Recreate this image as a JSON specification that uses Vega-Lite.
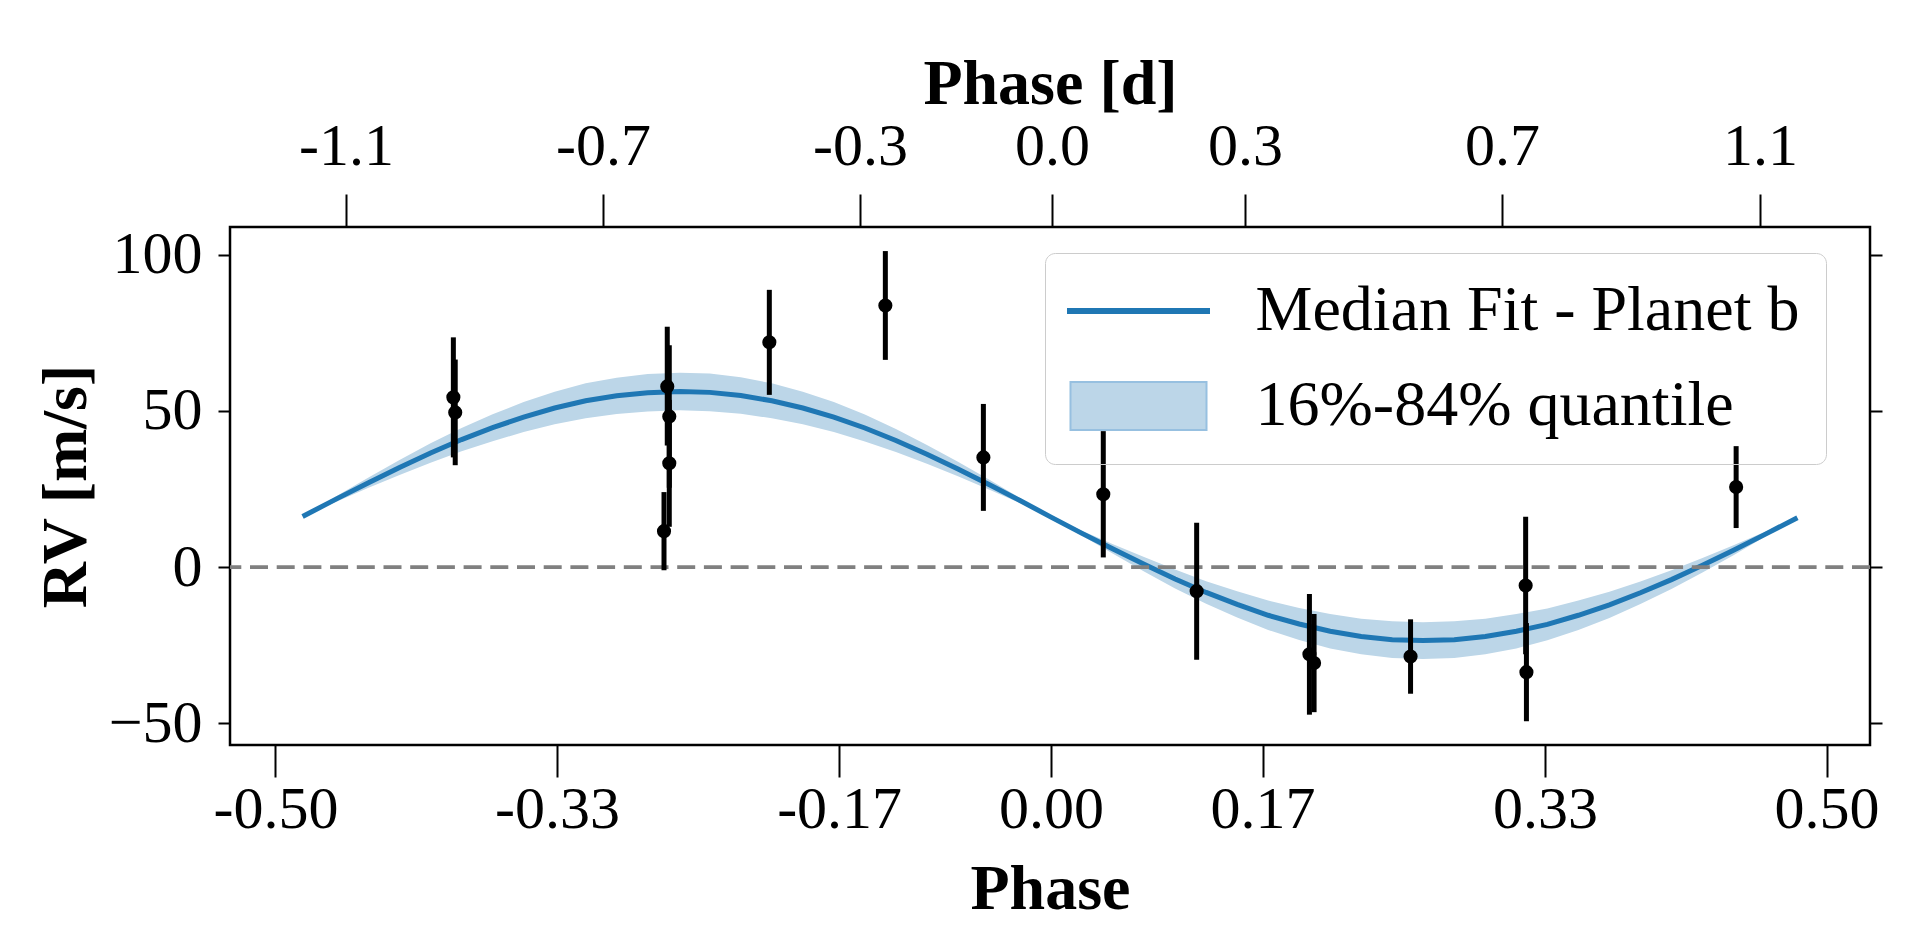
{
  "$schema": "https://vega.github.io/schema/vega-lite/v6.json",
  "width": 1640,
  "height": 518,
  "autosize": {"type": "none"},
  "padding": {"left": 230, "top": 227, "right": 50, "bottom": 198},
  "background": "white",
  "datasets": {
    "fit": [
      {"phase": -0.4825, "rv": 16.2, "lo": 16.2, "hi": 16.2},
      {"phase": -0.46, "rv": 22.0, "lo": 21.1, "hi": 22.9},
      {"phase": -0.44, "rv": 27.0, "lo": 25.4, "hi": 28.7},
      {"phase": -0.42, "rv": 31.9, "lo": 29.5, "hi": 34.3},
      {"phase": -0.40, "rv": 36.5, "lo": 33.4, "hi": 39.6},
      {"phase": -0.38, "rv": 40.8, "lo": 37.1, "hi": 44.5},
      {"phase": -0.36, "rv": 44.6, "lo": 40.3, "hi": 48.9},
      {"phase": -0.34, "rv": 48.0, "lo": 43.2, "hi": 52.8},
      {"phase": -0.32, "rv": 50.9, "lo": 45.7, "hi": 56.1},
      {"phase": -0.30, "rv": 53.2, "lo": 47.6, "hi": 58.8},
      {"phase": -0.28, "rv": 54.8, "lo": 49.0, "hi": 60.6},
      {"phase": -0.26, "rv": 55.8, "lo": 49.8, "hi": 61.8},
      {"phase": -0.2392, "rv": 56.2, "lo": 50.2, "hi": 62.2},
      {"phase": -0.22, "rv": 55.9, "lo": 49.9, "hi": 61.9},
      {"phase": -0.20, "rv": 54.9, "lo": 49.1, "hi": 60.7},
      {"phase": -0.18, "rv": 53.2, "lo": 47.6, "hi": 58.8},
      {"phase": -0.16, "rv": 50.9, "lo": 45.7, "hi": 56.1},
      {"phase": -0.14, "rv": 48.0, "lo": 43.2, "hi": 52.8},
      {"phase": -0.12, "rv": 44.5, "lo": 40.2, "hi": 48.8},
      {"phase": -0.10, "rv": 40.5, "lo": 36.8, "hi": 44.2},
      {"phase": -0.08, "rv": 36.1, "lo": 33.1, "hi": 39.1},
      {"phase": -0.06, "rv": 31.4, "lo": 29.1, "hi": 33.7},
      {"phase": -0.04, "rv": 26.4, "lo": 24.8, "hi": 28.0},
      {"phase": -0.02, "rv": 21.3, "lo": 20.5, "hi": 22.1},
      {"phase": 0.0, "rv": 16.0, "lo": 16.0, "hi": 16.0},
      {"phase": 0.02, "rv": 10.8, "lo": 10.0, "hi": 11.6},
      {"phase": 0.04, "rv": 5.8, "lo": 4.3, "hi": 7.3},
      {"phase": 0.06, "rv": 0.9, "lo": -1.4, "hi": 3.2},
      {"phase": 0.08, "rv": -3.8, "lo": -6.8, "hi": -0.8},
      {"phase": 0.10, "rv": -8.1, "lo": -11.7, "hi": -4.5},
      {"phase": 0.12, "rv": -11.9, "lo": -16.1, "hi": -7.7},
      {"phase": 0.14, "rv": -15.4, "lo": -20.1, "hi": -10.7},
      {"phase": 0.16, "rv": -18.2, "lo": -23.3, "hi": -13.1},
      {"phase": 0.18, "rv": -20.5, "lo": -26.0, "hi": -15.0},
      {"phase": 0.20, "rv": -22.2, "lo": -27.9, "hi": -16.5},
      {"phase": 0.22, "rv": -23.2, "lo": -29.1, "hi": -17.3},
      {"phase": 0.2398, "rv": -23.5, "lo": -29.4, "hi": -17.6},
      {"phase": 0.26, "rv": -23.2, "lo": -29.1, "hi": -17.3},
      {"phase": 0.28, "rv": -22.2, "lo": -27.9, "hi": -16.5},
      {"phase": 0.30, "rv": -20.5, "lo": -26.0, "hi": -15.0},
      {"phase": 0.32, "rv": -18.3, "lo": -23.4, "hi": -13.2},
      {"phase": 0.34, "rv": -15.4, "lo": -20.1, "hi": -10.7},
      {"phase": 0.36, "rv": -12.1, "lo": -16.3, "hi": -7.9},
      {"phase": 0.38, "rv": -8.2, "lo": -11.8, "hi": -4.6},
      {"phase": 0.40, "rv": -4.0, "lo": -7.0, "hi": -1.0},
      {"phase": 0.42, "rv": 0.6, "lo": -1.7, "hi": 2.9},
      {"phase": 0.44, "rv": 5.4, "lo": 3.8, "hi": 7.0},
      {"phase": 0.46, "rv": 10.4, "lo": 9.6, "hi": 11.2},
      {"phase": 0.4812, "rv": 15.8, "lo": 15.8, "hi": 15.8}
    ],
    "rv": [
      {"phase": -0.3853, "rv": 54.3, "lo": 35.1, "hi": 73.5},
      {"phase": -0.3841, "rv": 49.5, "lo": 32.6, "hi": 66.4},
      {"phase": -0.2474, "rv": 57.8, "lo": 38.9, "hi": 76.9},
      {"phase": -0.2461, "rv": 48.2, "lo": 25.4, "hi": 71.0},
      {"phase": -0.2461, "rv": 33.2, "lo": 12.9, "hi": 53.5},
      {"phase": -0.2495, "rv": 11.5, "lo": -1.0, "hi": 24.0},
      {"phase": -0.1816, "rv": 71.9, "lo": 55.1, "hi": 88.7},
      {"phase": -0.1068, "rv": 83.7, "lo": 66.3, "hi": 101.1},
      {"phase": -0.0436, "rv": 35.1, "lo": 18.0, "hi": 52.2},
      {"phase": 0.0337, "rv": 23.3, "lo": 3.1, "hi": 43.5},
      {"phase": 0.0939, "rv": -7.7, "lo": -29.6, "hi": 14.2},
      {"phase": 0.1666, "rv": -27.9, "lo": -47.2, "hi": -8.6},
      {"phase": 0.1696, "rv": -30.7, "lo": -46.4, "hi": -15.0},
      {"phase": 0.2318, "rv": -28.6, "lo": -40.5, "hi": -16.7},
      {"phase": 0.3060, "rv": -5.9, "lo": -27.9, "hi": 16.1},
      {"phase": 0.3065, "rv": -33.6, "lo": -49.3, "hi": -17.9},
      {"phase": 0.4417, "rv": 25.6, "lo": 12.5, "hi": 38.7}
    ]
  },
  "layer": [
    {
      "data": {"name": "fit"},
      "mark": {"type": "area", "color": "#bcd6e8", "opacity": 1},
      "encoding": {
        "x": {
          "field": "phase", "type": "quantitative",
          "scale": {"domain": [-0.5293, 0.528], "nice": false, "zero": false},
          "axis": {
            "orient": "bottom",
            "values": [-0.5, -0.3185, -0.1366, 0, 0.1364, 0.3185, 0.5],
            "labelExpr": "datum.value < -0.4 ? '-0.50' : datum.value < -0.2 ? '-0.33' : datum.value < -0.05 ? '-0.17' : datum.value < 0.05 ? '0.00' : datum.value < 0.2 ? '0.17' : datum.value < 0.4 ? '0.33' : '0.50'",
            "tickSize": 32,
            "labelPadding": 3,
            "title": "Phase",
            "titlePadding": 18
          }
        },
        "y": {
          "field": "lo", "type": "quantitative",
          "scale": {"domain": [-56.9, 108.8], "nice": false, "zero": false},
          "axis": {
            "orient": "left",
            "values": [-50, 0, 50, 100],
            "tickSize": 12,
            "labelPadding": 16,
            "title": "RV [m/s]",
            "titlePadding": 10
          }
        },
        "y2": {"field": "hi"}
      }
    },
    {
      "data": {"name": "fit"},
      "mark": {"type": "line", "color": "#1f77b4", "strokeWidth": 5},
      "encoding": {
        "x": {
          "field": "phase", "type": "quantitative",
          "scale": {"domain": [-0.5293, 0.528], "nice": false, "zero": false},
          "axis": {
            "orient": "top",
            "values": [-0.4545, -0.2888, -0.1231, 0.0006, 0.1251, 0.2908, 0.4571],
            "labelExpr": "datum.value < -0.4 ? '-1.1' : datum.value < -0.2 ? '-0.7' : datum.value < -0.05 ? '-0.3' : datum.value < 0.05 ? '0.0' : datum.value < 0.2 ? '0.3' : datum.value < 0.4 ? '0.7' : '1.1'",
            "tickSize": 33,
            "labelPadding": 17,
            "title": "Phase [d]",
            "titlePadding": 0
          }
        },
        "y": {
          "field": "rv", "type": "quantitative",
          "scale": {"domain": [-56.9, 108.8], "nice": false, "zero": false},
          "axis": {
            "orient": "right",
            "values": [-50, 0, 50, 100],
            "tickSize": 12,
            "labels": false,
            "title": null
          }
        }
      }
    },
    {
      "data": {"values": [{"rv": 0}]},
      "mark": {"type": "rule", "color": "#808080", "strokeWidth": 3.8, "strokeDash": [18, 8.7]},
      "encoding": {
        "y": {
          "field": "rv", "type": "quantitative",
          "scale": {"domain": [-56.9, 108.8], "nice": false, "zero": false},
          "axis": null
        }
      }
    },
    {
      "data": {"name": "rv"},
      "mark": {"type": "rule", "color": "black", "strokeWidth": 5},
      "encoding": {
        "x": {"field": "phase", "type": "quantitative", "scale": {"domain": [-0.5293, 0.528], "nice": false, "zero": false}, "axis": null},
        "y": {"field": "lo", "type": "quantitative", "scale": {"domain": [-56.9, 108.8], "nice": false, "zero": false}, "axis": null},
        "y2": {"field": "hi"}
      }
    },
    {
      "data": {"name": "rv"},
      "mark": {"type": "point", "filled": true, "color": "black", "opacity": 1, "size": 200},
      "encoding": {
        "x": {"field": "phase", "type": "quantitative", "scale": {"domain": [-0.5293, 0.528], "nice": false, "zero": false}, "axis": null},
        "y": {"field": "rv", "type": "quantitative", "scale": {"domain": [-56.9, 108.8], "nice": false, "zero": false}, "axis": null}
      }
    },
    {
      "data": {"values": []},
      "mark": {"type": "point", "filled": true, "opacity": 1},
      "encoding": {
        "shape": {
          "field": "item", "type": "nominal",
          "scale": {
            "domain": ["Median Fit - Planet b", "16%-84% quantile"],
            "range": ["M-2.35,-0.067H2.35V0.067H-2.35Z", "M-2.267,-0.8H2.267V0.8H-2.267Z"]
          },
          "legend": {
            "orient": "none", "legendX": 815, "legendY": 26, "title": null,
            "symbolSize": 3600, "symbolStrokeWidth": 2, "symbolOffset": 35.5, "symbolOpacity": 1,
            "labelFont": "Liberation Serif", "labelFontSize": 64, "labelColor": "black", "labelLimit": 1000, "labelOffset": 85,
            "padding": 26, "rowPadding": 31, "strokeColor": "#cccccc", "cornerRadius": 10
          }
        },
        "fill": {
          "field": "item", "type": "nominal",
          "scale": {"domain": ["Median Fit - Planet b", "16%-84% quantile"], "range": ["#1f77b4", "#bcd6e8"]},
          "legend": {
            "orient": "none", "legendX": 815, "legendY": 26, "title": null,
            "symbolSize": 3600, "symbolStrokeWidth": 2, "symbolOffset": 35.5, "symbolOpacity": 1,
            "labelFont": "Liberation Serif", "labelFontSize": 64, "labelColor": "black", "labelLimit": 1000, "labelOffset": 85,
            "padding": 26, "rowPadding": 31, "strokeColor": "#cccccc", "cornerRadius": 10
          }
        },
        "stroke": {
          "field": "item", "type": "nominal",
          "scale": {"domain": ["Median Fit - Planet b", "16%-84% quantile"], "range": ["#1f77b4", "#97c0e0"]},
          "legend": {
            "orient": "none", "legendX": 815, "legendY": 26, "title": null,
            "symbolSize": 3600, "symbolStrokeWidth": 2, "symbolOffset": 35.5, "symbolOpacity": 1,
            "labelFont": "Liberation Serif", "labelFontSize": 64, "labelColor": "black", "labelLimit": 1000, "labelOffset": 85,
            "padding": 26, "rowPadding": 31, "strokeColor": "#cccccc", "cornerRadius": 10
          }
        }
      }
    }
  ],
  "resolve": {"axis": {"x": "independent", "y": "independent"}},
  "config": {
    "font": "Liberation Serif",
    "view": {"stroke": "black", "strokeWidth": 2.5},
    "axis": {
      "domain": false,
      "grid": false,
      "labelFont": "Liberation Serif",
      "labelFontSize": 60,
      "labelColor": "black",
      "labelFlush": false,
      "labelOverlap": false,
      "labelBound": false,
      "tickColor": "black",
      "tickWidth": 2,
      "titleFont": "Liberation Serif",
      "titleFontSize": 64,
      "titleFontWeight": "bold",
      "titleColor": "black"
    }
  }
}
